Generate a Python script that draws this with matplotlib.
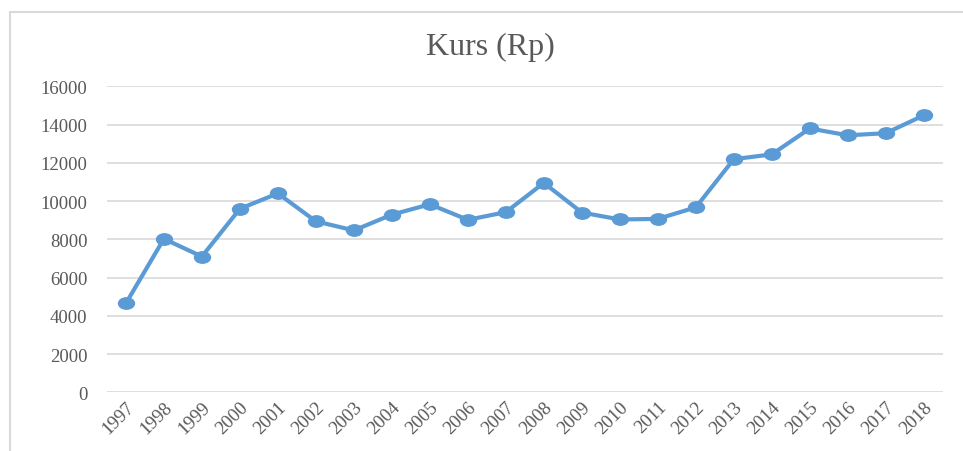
import matplotlib
matplotlib.use("Agg")
import matplotlib.pyplot as plt
from matplotlib.patches import Rectangle
from matplotlib.path import Path
from matplotlib.transforms import Affine2D

years = [str(y) for y in range(1997, 2019)]
kurs = [4650, 8025, 7100, 9595, 10400, 8940, 8465, 9290, 9830, 9020, 9419,
        10950, 9400, 9036, 9068, 9670, 12189, 12440, 13795, 13436, 13548, 14481]
yticks = [0, 2000, 4000, 6000, 8000, 10000, 12000, 14000, 16000]

plt.rcParams["font.family"] = ["Liberation Serif", "DejaVu Serif"]
text_col = "#595959"

fig = plt.figure(figsize=(9.63, 4.52), dpi=100)
ax = fig.add_axes([0.111, 0.1298, 0.868, 0.6771])

# slightly wide dot, like the original picture
dot = Path.unit_circle().transformed(Affine2D().scale(1.4, 1.0))

x = list(range(len(years)))
ax.plot(x, kurs, color="#5B9BD5", linewidth=3.0, marker=dot,
        markersize=11.5, markerfacecolor="#5B9BD5", markeredgecolor="#5B9BD5",
        solid_capstyle="round", zorder=3)

ax.set_xlim(-0.5, len(years) - 0.5)
ax.set_ylim(0, 16000)
ax.set_yticks(yticks)
ax.set_yticklabels([str(v) for v in yticks], fontsize=13.5, color=text_col)
ax.set_xticks(x)
ax.set_xticklabels(years, rotation=45, ha="right", rotation_mode="anchor",
                   fontsize=13.5, color=text_col)
ax.tick_params(axis="both", length=0)
ax.tick_params(axis="y", pad=14)
ax.tick_params(axis="x", pad=4)
ax.grid(axis="y", color="#D9D9D9", linewidth=1.2)
ax.set_axisbelow(True)
for s in ax.spines.values():
    s.set_visible(False)

fig.text(0.509, 0.896, "Kurs (Rp)", ha="center", va="center",
         fontsize=23, color=text_col)

# chart border
fig.patches.append(Rectangle((10 / 963, -0.1), 1.2, 1 - 13 / 452 + 0.1,
                             transform=fig.transFigure, fill=False,
                             edgecolor="#D9D9D9", linewidth=1.5))

fig.savefig("out.png", dpi=100)
